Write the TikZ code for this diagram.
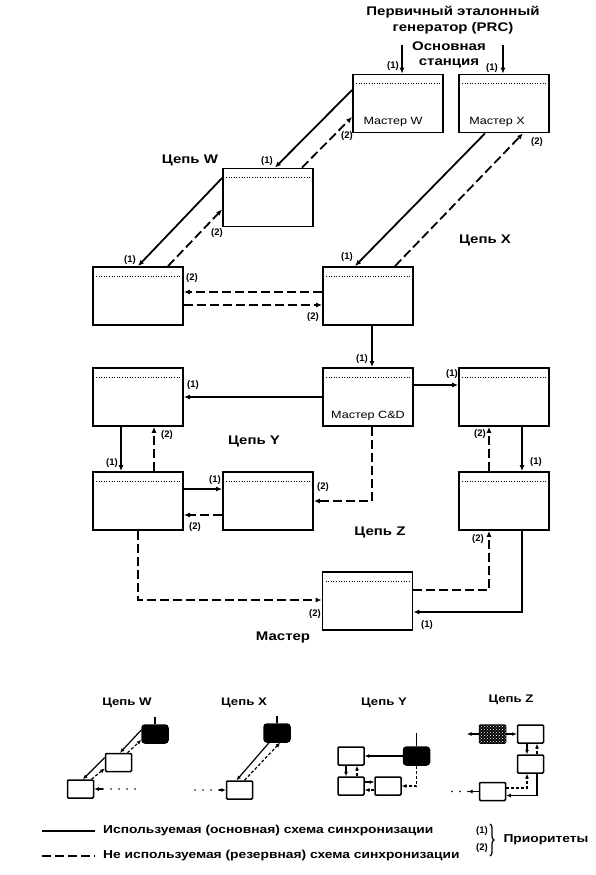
\documentclass[tikz,border=0pt]{standalone}
\usepackage{fontspec}
\setmainfont{Liberation Sans}
\newfontfamily\widefont[FakeStretch=1.2]{Liberation Sans}
\usetikzlibrary{arrows.meta}
\usetikzlibrary{patterns}
\usetikzlibrary{decorations.pathreplacing}

\begin{document}
\begin{tikzpicture}[x=1pt, y=-1pt,
    stn/.style={draw, line width=1.8pt, minimum width=90pt, minimum height=58pt, inner sep=0pt,
        path picture={\draw[line width=1pt, dash pattern=on 1pt off 1.6pt]
            ([xshift=3pt, yshift=-9pt]path picture bounding box.north west) --
            ([xshift=-3pt, yshift=-9pt]path picture bounding box.north east);}},
    mini/.style={draw, line width=1.5pt, minimum width=26pt, minimum height=18pt, inner sep=0pt, rounded corners=1pt},
    blk/.style={mini, fill=black, rounded corners=3pt},
    spk/.style={mini, fill=black, postaction={pattern=crosshatch dots, pattern color=white}},
    main/.style={line width=1.8pt, -{Latex[length=6pt, width=5pt]}},
    resv/.style={main, dash pattern=on 9pt off 4pt},
    msync/.style={line width=1.2pt, -{Latex[length=4.5pt, width=4pt]}},
    mresv/.style={msync, dash pattern=on 3pt off 2pt},
    mback/.style={line width=1.2pt, {Latex[length=4.5pt, width=4pt]}-},
    mline/.style={line width=1.2pt},
    mdots/.style={line width=1.8pt, line cap=round, dash pattern=on 0pt off 8pt},
    prio/.style={font=\bfseries\fontsize{9.5}{10}\selectfont, inner sep=0pt},
    ttl/.style={font=\widefont\bfseries\fontsize{12.5}{15.5}\selectfont, inner sep=0pt},
    mttl/.style={font=\widefont\bfseries\fontsize{11}{13}\selectfont, inner sep=0pt},
    inl/.style={font=\widefont\fontsize{10.5}{12}\selectfont, inner sep=0pt},
    lgt/.style={font=\widefont\bfseries\fontsize{11.5}{13}\selectfont, inner sep=0pt},
]
    \useasboundingbox (0, 0) rectangle (596, 875);

    \node[ttl, align=center] at (453, 20) (prc) {Первичный эталонный\\генератор (PRC)};
    \node[ttl, align=center] at (449, 55) (base) {Основная\\станция};

    \node[stn] at (398, 103.5) (mw) {};
    \node[stn] at (504, 103.5) (mx) {};
    \node[stn] at (268, 197.5) (w1) {};
    \node[stn] at (138, 296) (w2) {};
    \node[stn] at (368, 296) (x1) {};
    \node[stn] at (138, 397) (y1) {};
    \node[stn] at (368, 397) (cd) {};
    \node[stn] at (504, 397) (z1) {};
    \node[stn] at (138, 501) (y2) {};
    \node[stn] at (268, 501) (y3) {};
    \node[stn] at (504, 501) (z2) {};
    \node[stn] at (367.5, 601) (mz) {};

    \node[inl] at (393, 122) (tmw) {Мастер W};
    \node[inl] at (497, 122) (tmx) {Мастер X};
    \node[inl] at (368, 416) (tcd) {Мастер C\&D};

    \node[ttl] at (190, 160) (lw) {Цепь W};
    \node[ttl] at (485, 240) (lx) {Цепь X};
    \node[ttl] at (254, 441) (ly) {Цепь Y};
    \node[ttl] at (380, 532) (lz) {Цепь Z};
    \node[ttl] at (283, 637) (lm) {Мастер};

    \coordinate (prcw) at (402, 45);
    \coordinate (prcx) at (503, 45);
    \draw[main] (prcw) -- (prcw |- mw.north);
    \draw[main] (prcx) -- (prcx |- mx.north);
    \draw[main] ([yshift=13.5pt]mw.west) -- ([xshift=7pt]w1.north);
    \draw[resv] ([xshift=34pt]w1.north) -- ([yshift=-13.5pt]mw.west);
    \draw[main] ([yshift=19.5pt]w1.west) -- (w2.north);
    \draw[resv] ([xshift=30pt]w2.north) -- ([yshift=-12pt]w1.west);
    \draw[main] ([xshift=-19pt]mx.south) -- ([xshift=-13pt]x1.north);
    \draw[resv] ([xshift=27pt]x1.north) -- ([xshift=19pt]mx.south);
    \draw[resv] ([yshift=4pt]x1.west) -- ([yshift=4pt]w2.east);
    \draw[resv] ([yshift=-9pt]w2.east) -- ([yshift=-9pt]x1.west);
    \draw[main] ([xshift=4pt]x1.south) -- ([xshift=4pt]cd.north);
    \draw[main] (cd.west) -- (y1.east);
    \draw[main] ([yshift=12pt]cd.east) -- ([yshift=12pt]z1.west);
    \draw[resv] ([xshift=4pt]cd.south) |- (y3.east);
    \draw[main] ([xshift=-17pt]y1.south) -- ([xshift=-17pt]y2.north);
    \draw[resv] ([xshift=16pt]y2.north) -- ([xshift=16pt]y1.south);
    \draw[main] ([yshift=12pt]y2.east) -- ([yshift=12pt]y3.west);
    \draw[resv] ([yshift=-14pt]y3.west) -- ([yshift=-14pt]y2.east);
    \draw[main] ([xshift=18pt]z1.south) -- ([xshift=18pt]z2.north);
    \draw[resv] ([xshift=-15pt]z2.north) -- ([xshift=-15pt]z1.south);
    \draw[main] ([xshift=18pt]z2.south) |- ([yshift=-11pt]mz.east);
    \draw[resv] ([yshift=11pt]mz.east) -| ([xshift=-15pt]z2.south);
    \draw[resv] (y2.south) |- ([yshift=1pt]mz.west);

    \node[prio] at (393, 66) (p1) {(1)};
    \node[prio] at (492, 68) (p2) {(1)};
    \node[prio] at (267, 161) (p3) {(1)};
    \node[prio] at (347, 136) (p4) {(2)};
    \node[prio] at (130, 260) (p5) {(1)};
    \node[prio] at (217, 233) (p6) {(2)};
    \node[prio] at (347, 257) (p7) {(1)};
    \node[prio] at (537, 142) (p8) {(2)};
    \node[prio] at (192, 278) (p9) {(2)};
    \node[prio] at (313, 317) (p10) {(2)};
    \node[prio] at (362, 359) (p11) {(1)};
    \node[prio] at (193, 385) (p12) {(1)};
    \node[prio] at (452, 374) (p13) {(1)};
    \node[prio] at (323, 487) (p14) {(2)};
    \node[prio] at (112, 463) (p15) {(1)};
    \node[prio] at (167, 435) (p16) {(2)};
    \node[prio] at (215, 480) (p17) {(1)};
    \node[prio] at (195, 527) (p18) {(2)};
    \node[prio] at (536, 462) (p19) {(1)};
    \node[prio] at (480, 434) (p20) {(2)};
    \node[prio] at (427, 625) (p21) {(1)};
    \node[prio] at (478, 539) (p22) {(2)};
    \node[prio] at (315, 614) (p23) {(2)};

    \node[mttl] at (127, 703) (tw) {Цепь W};
    \node[mttl] at (244, 703) (tx) {Цепь X};
    \node[mttl] at (384, 703) (ty) {Цепь Y};
    \node[mttl] at (511, 700) (tz) {Цепь Z};

    \node[blk] at (155, 734) (wb) {};
    \node[mini] at (118.5, 762.5) (wm) {};
    \node[mini] at (80.5, 789) (wl) {};
    \coordinate (wup) at (155, 717);
    \coordinate (wo) at (103, 789);
    \coordinate (wd) at (135, 789);
    \draw[mline] (wup) -- (wb.north);
    \draw[msync] ([yshift=4pt]wb.west) -- ([xshift=1.5pt]wm.north);
    \draw[mresv] ([xshift=9pt]wm.north) -- ([yshift=-6pt]wb.west);
    \draw[msync] ([yshift=5pt]wm.west) -- ([xshift=2.5pt]wl.north);
    \draw[mresv] ([xshift=11pt]wl.north) -- ([yshift=-6pt]wm.west);
    \draw[mback] (wl.east) -- (wo);
    \draw[mdots] (wo) -- (wd);

    \node[blk] at (277, 733) (xb) {};
    \node[mini] at (239.5, 790) (xr) {};
    \coordinate (xup) at (277, 716);
    \coordinate (xo) at (219, 790);
    \coordinate (xd) at (195, 790);
    \draw[mline] (xup) -- (xb.north);
    \draw[msync] ([xshift=-8pt]xb.south) -- ([xshift=-3pt]xr.north);
    \draw[mresv] ([xshift=5pt]xr.north) -- ([xshift=3pt]xb.south);
    \draw[mback] (xr.west) -- (xo);
    \draw[mdots] (xo) -- (xd);

    \node[blk] at (416.5, 756) (yb) {};
    \node[mini] at (351, 756) (ya) {};
    \node[mini] at (351, 786) (yc) {};
    \node[mini] at (388, 786) (ym) {};
    \coordinate (yup) at (416.5, 733);
    \draw[mline] (yup) -- (yb.north);
    \draw[msync] (yb.west) -- (ya.east);
    \draw[mresv] (yb.south) |- (ym.east);
    \draw[msync] ([xshift=-5pt]ya.south) -- ([xshift=-5pt]yc.north);
    \draw[mresv] ([xshift=6pt]yc.north) -- ([xshift=6pt]ya.south);
    \draw[msync] ([yshift=4pt]yc.east) -- ([yshift=4pt]ym.west);
    \draw[mresv] ([yshift=-4pt]ym.west) -- ([yshift=-4pt]yc.east);

    \node[spk] at (492.5, 734) (zs) {};
    \node[mini] at (530.5, 734) (za) {};
    \node[mini] at (530.5, 764) (zm) {};
    \node[mini] at (492.5, 791.5) (zc) {};
    \coordinate (zsl) at (467, 734);
    \coordinate (zo) at (468, 791.5);
    \coordinate (zd) at (450, 791.5);
    \draw[msync] (zs.west) -- (zsl);
    \draw[msync] (zs.east) -- (za.west);
    \draw[msync] ([xshift=-3.5pt]za.south) -- ([xshift=-3.5pt]zm.north);
    \draw[mresv] ([xshift=6.5pt]zm.north) -- ([xshift=6.5pt]za.south);
    \draw[mresv] ([yshift=3.5pt]zc.east) -| ([xshift=-3.5pt]zm.south);
    \draw[msync] ([xshift=6.5pt]zm.south) |- ([yshift=-4pt]zc.east);
    \draw[msync] (zc.west) -- (zo);
    \draw[mdots] (zo) -- (zd);

    \coordinate (ls1) at (42, 831);
    \coordinate (le1) at (95, 831);
    \coordinate (ls2) at (42, 856);
    \coordinate (le2) at (95, 856);
    \draw[line width=1.8pt] (ls1) -- (le1);
    \draw[line width=1.8pt, dash pattern=on 9pt off 4pt] (ls2) -- (le2);
    \node[lgt, anchor=west] at (103, 831) (lt1) {Используемая (основная) схема синхронизации};
    \node[lgt, anchor=west] at (103, 856) (lt2) {Не используемая (резервная) схема синхронизации};
    \node[prio] at (482, 831) (q1) {(1)};
    \node[prio] at (482, 848) (q2) {(2)};
    \coordinate (bt) at (490, 824);
    \coordinate (bb) at (490, 856);
    \draw[line width=1.3pt, decorate, decoration={brace, amplitude=4pt}] (bt) -- (bb);
    \node[lgt] at (546, 840) (lp) {Приоритеты};
\end{tikzpicture}
\end{document}
